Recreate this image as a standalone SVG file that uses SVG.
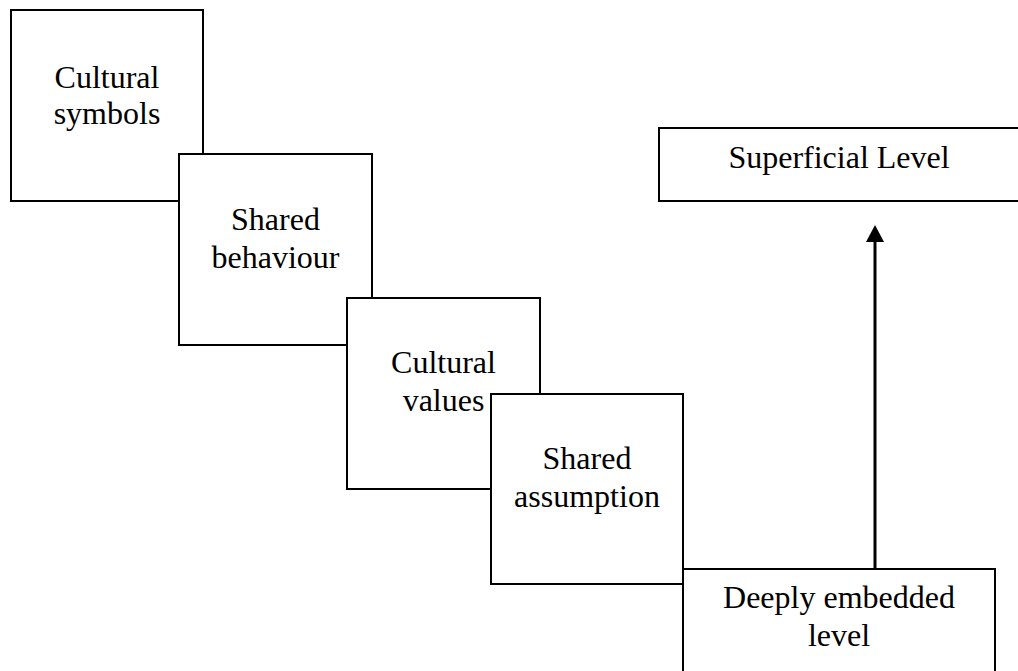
<svg xmlns="http://www.w3.org/2000/svg" width="1018" height="671" viewBox="0 0 1018 671">
  <style>
    .box { fill: #ffffff; stroke: #000000; stroke-width: 2; }
    .lbl { font-family: "Liberation Serif", "Times New Roman", serif; font-size: 32px; fill: #000000; text-anchor: middle; }
    .link { stroke: #000000; stroke-width: 3; fill: none; }
  </style>
  <defs>
    <marker id="arrowhead" markerUnits="userSpaceOnUse" markerWidth="18" markerHeight="18" refX="0" refY="9" orient="auto">
      <path d="M0,0 L17,9 L0,18 Z" fill="#000000"/>
    </marker>
  </defs>
  <rect width="1018" height="671" fill="#ffffff"/>

  <g id="cultural-symbols">
    <rect class="box" x="11" y="10" width="192" height="191"/>
    <text class="lbl" x="107" y="88">Cultural</text>
    <text class="lbl" x="107" y="124">symbols</text>
  </g>

  <g id="shared-behaviour">
    <rect class="box" x="179" y="154" width="193" height="191"/>
    <text class="lbl" x="275.5" y="230">Shared</text>
    <text class="lbl" x="275.5" y="268">behaviour</text>
  </g>

  <g id="cultural-values">
    <rect class="box" x="347" y="298" width="193" height="191"/>
    <text class="lbl" x="443.5" y="373">Cultural</text>
    <text class="lbl" x="443.5" y="411">values</text>
  </g>

  <g id="shared-assumption">
    <rect class="box" x="491" y="394" width="192" height="190"/>
    <text class="lbl" x="587" y="469">Shared</text>
    <text class="lbl" x="587" y="507">assumption</text>
  </g>

  <g id="deeply-embedded-level">
    <rect class="box" x="683" y="569" width="312" height="140"/>
    <text class="lbl" x="839" y="608">Deeply embedded</text>
    <text class="lbl" x="839" y="646">level</text>
  </g>

  <g id="superficial-level">
    <rect class="box" x="659" y="128" width="370" height="73"/>
    <text class="lbl" x="839" y="168">Superficial Level</text>
  </g>

  <g id="connectors">
    <line class="link" x1="875" y1="569" x2="875" y2="242" marker-end="url(#arrowhead)"/>
  </g>
</svg>
